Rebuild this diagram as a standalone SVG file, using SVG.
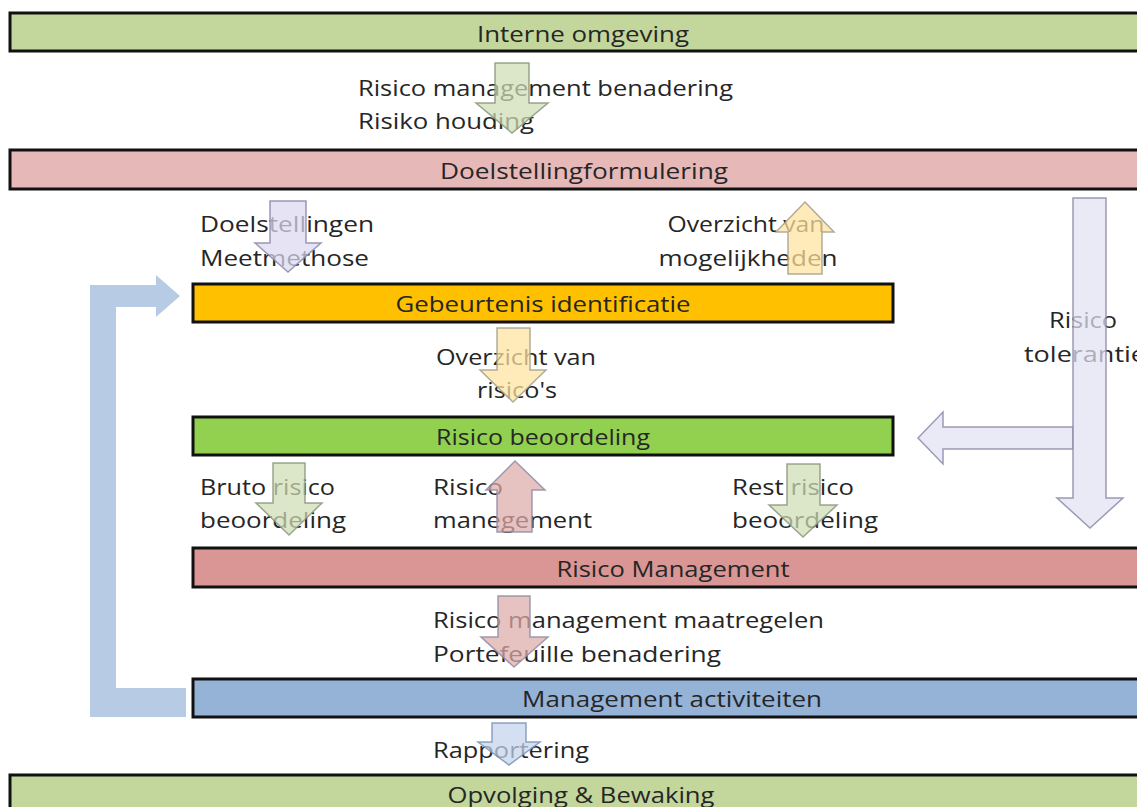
<svg xmlns="http://www.w3.org/2000/svg" width="1137" height="807" viewBox="0 0 1137 807">
<style>
  .bar { stroke: #111; stroke-width: 3; }
  .t { font-family: "Open Sans", "Noto Sans", "Liberation Sans", sans-serif; font-size: 21px; fill: #262626; }
  .c { text-anchor: middle; }
  .arr { stroke-width: 1.5; fill-opacity: 0.72; stroke-opacity: 0.85; }
  .green { fill: #cfdcb4; stroke: #8a977c; }
  .lav { fill: #dcdaf0; stroke: #8a87ad; }
  .yel { fill: #ffe3a0; stroke: #a39d8c; }
  .pink { fill: #dcaaa8; stroke: #8e8ca6; }
  .blue { fill: #c3d4ec; stroke: #7a93b8; }
  .biglav { fill: #e2e1f2; stroke: #8c8aa8; }
</style>
<rect width="1137" height="807" fill="#ffffff"/>

<g id="node-interne-omgeving">
  <rect class="bar" x="10" y="13" width="1150" height="38" fill="#c3d69b"/>
  <text class="t c" x="583" y="42" textLength="212" lengthAdjust="spacingAndGlyphs">Interne omgeving</text>
</g>
<g id="node-doelstellingformulering">
  <rect class="bar" x="10" y="150" width="1150" height="39" fill="#e6b9b8"/>
  <text class="t c" x="584" y="179" textLength="288" lengthAdjust="spacingAndGlyphs">Doelstellingformulering</text>
</g>
<g id="node-gebeurtenis-identificatie">
  <rect class="bar" x="193" y="284" width="700" height="38" fill="#ffc000"/>
  <text class="t c" x="543" y="312" textLength="295" lengthAdjust="spacingAndGlyphs">Gebeurtenis identificatie</text>
</g>
<g id="node-risico-beoordeling">
  <rect class="bar" x="193" y="417" width="700" height="38" fill="#92d050"/>
  <text class="t c" x="543" y="445" textLength="214" lengthAdjust="spacingAndGlyphs">Risico beoordeling</text>
</g>
<g id="node-risico-management">
  <rect class="bar" x="193" y="548" width="970" height="39" fill="#d99694"/>
  <text class="t c" x="673" y="577" textLength="233" lengthAdjust="spacingAndGlyphs">Risico Management</text>
</g>
<g id="node-management-activiteiten">
  <rect class="bar" x="193" y="679" width="970" height="38" fill="#95b3d7"/>
  <text class="t c" x="672" y="707" textLength="300" lengthAdjust="spacingAndGlyphs">Management activiteiten</text>
</g>
<g id="node-opvolging-bewaking">
  <rect class="bar" x="10" y="775" width="1160" height="40" fill="#c3d69b"/>
  <text class="t c" x="581" y="803" textLength="267" lengthAdjust="spacingAndGlyphs">Opvolging &amp; Bewaking</text>
</g>

<g id="connectors">
  <g id="connector-labels">
    <text class="t" x="358" y="96" textLength="375" lengthAdjust="spacingAndGlyphs">Risico management benadering</text>
    <text class="t" x="358" y="129" textLength="176" lengthAdjust="spacingAndGlyphs">Risiko houding</text>
    <text class="t" x="200" y="232" textLength="174" lengthAdjust="spacingAndGlyphs">Doelstellingen</text>
    <text class="t" x="200" y="266" textLength="169" lengthAdjust="spacingAndGlyphs">Meetmethose</text>
    <text class="t c" x="746" y="232" textLength="157" lengthAdjust="spacingAndGlyphs">Overzicht van</text>
    <text class="t c" x="748" y="266" textLength="179" lengthAdjust="spacingAndGlyphs">mogelijkheden</text>
    <text class="t" x="436" y="365" textLength="160" lengthAdjust="spacingAndGlyphs">Overzicht van</text>
    <text class="t" x="477" y="398" textLength="80" lengthAdjust="spacingAndGlyphs">risico's</text>
    <text class="t c" x="1083" y="328" textLength="68" lengthAdjust="spacingAndGlyphs">Risico</text>
    <text class="t" x="1024" y="362" textLength="122" lengthAdjust="spacingAndGlyphs">tolerantie</text>
    <text class="t" x="200" y="495" textLength="135" lengthAdjust="spacingAndGlyphs">Bruto risico</text>
    <text class="t" x="200" y="528" textLength="146" lengthAdjust="spacingAndGlyphs">beoordeling</text>
    <text class="t" x="433" y="495" textLength="70" lengthAdjust="spacingAndGlyphs">Risico</text>
    <text class="t" x="433" y="528" textLength="159" lengthAdjust="spacingAndGlyphs">manegement</text>
    <text class="t" x="732" y="495" textLength="122" lengthAdjust="spacingAndGlyphs">Rest risico</text>
    <text class="t" x="732" y="528" textLength="146" lengthAdjust="spacingAndGlyphs">beoordeling</text>
    <text class="t" x="433" y="628" textLength="391" lengthAdjust="spacingAndGlyphs">Risico management maatregelen</text>
    <text class="t" x="433" y="662" textLength="288" lengthAdjust="spacingAndGlyphs">Portefeuille benadering</text>
    <text class="t" x="433" y="758" textLength="156" lengthAdjust="spacingAndGlyphs">Rapportering</text>
  </g>

  <path id="feedback-loop" d="M186,688 H116 V307 H156 V317 L180,296 L156,275 V285 H90 V717 H186 Z" fill="#b7cce4"/>

  <path class="arr green" d="M495,63 H529 V103 H548 L512,133 L476,103 H495 Z"/>
  <path class="arr lav" d="M270,201 H306 V243 H321 L288,272 L255,243 H270 Z"/>
  <path class="arr yel" d="M805,202 L834,232 H822 V274 H788 V232 H776 Z"/>
  <path class="arr yel" d="M497,328 H530 V370 H546 L513,402 L480,370 H497 Z"/>
  <path class="arr green" d="M273,463 H305 V503 H322 L289,535 L256,503 H273 Z"/>
  <path class="arr pink" d="M515,461 L545,490 H532 V532 H497 V490 H486 Z"/>
  <path class="arr green" d="M787,464 H820 V505 H837 L803,537 L769,505 H787 Z"/>
  <path class="arr pink" d="M498,596 H530 V637 H548 L514,667 L481,637 H498 Z"/>
  <path class="arr blue" d="M492,723 H526 V742 H540 L509,765 L478,742 H492 Z"/>
  <path class="arr biglav" d="M1073,427 V449 H943 V464 L918,438 L943,412 V427 Z"/>
  <path class="arr biglav" d="M1073,198 H1106 V498 H1123 L1090,528 L1057,498 H1073 Z"/>
</g>
</svg>
